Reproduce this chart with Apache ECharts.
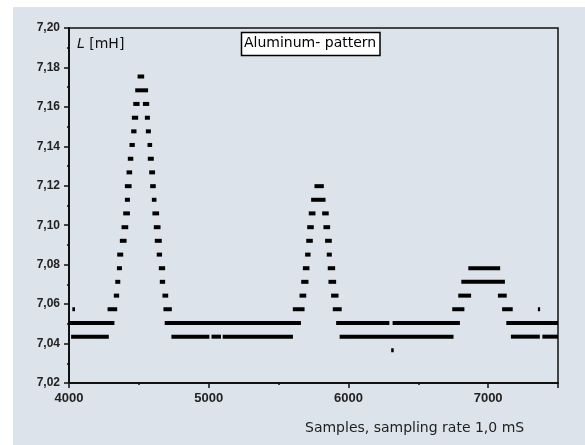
<!DOCTYPE html>
<html>
<head>
<meta charset="utf-8">
<script src="https://cdn.jsdelivr.net/npm/echarts@6/dist/echarts.min.js"></script>
<style>
  html, body { margin: 0; padding: 0; background: #fff; }
  #chart { width: 585px; height: 445px; }
</style>
</head>
<body>
<div id="chart"></div>
<script>
// each entry: [first sample, last sample, L in mH] -> one run of equal readings
var baseUpper = [
  [4000, 4325, 7.0504], [4685, 5660, 7.0504], [5912, 6293, 7.0504],
  [6316, 6798, 7.0504], [7130, 7500, 7.0504]
];
var baseLower = [
  [4015, 4285, 7.0435], [4733, 5005, 7.0435], [5020, 5088, 7.0435],
  [5100, 5603, 7.0435], [5937, 6752, 7.0435], [7163, 7370, 7.0435],
  [7388, 7500, 7.0435]
];
var peak1 = [
  [4276, 4345, 7.0574], [4676, 4736, 7.0574],
  [4321, 4359, 7.0643], [4669, 4710, 7.0643],
  [4331, 4367, 7.0713], [4650, 4688, 7.0713],
  [4343, 4379, 7.0782], [4643, 4688, 7.0782],
  [4345, 4388, 7.0851], [4628, 4666, 7.0851],
  [4364, 4412, 7.0921], [4614, 4664, 7.0921],
  [4376, 4424, 7.0990], [4607, 4655, 7.0990],
  [4388, 4436, 7.1060], [4597, 4645, 7.1060],
  [4400, 4436, 7.1129], [4593, 4626, 7.1129],
  [4400, 4448, 7.1198], [4581, 4621, 7.1198],
  [4412, 4452, 7.1268], [4574, 4616, 7.1268],
  [4421, 4460, 7.1337], [4564, 4607, 7.1337],
  [4433, 4471, 7.1407], [4562, 4595, 7.1407],
  [4445, 4483, 7.1476], [4550, 4586, 7.1476],
  [4450, 4495, 7.1545], [4543, 4579, 7.1545],
  [4460, 4505, 7.1615], [4529, 4574, 7.1615],
  [4474, 4566, 7.1684],
  [4491, 4538, 7.1754]
];
var peak2 = [
  [5602, 5686, 7.0574], [5888, 5952, 7.0574],
  [5650, 5698, 7.0643], [5876, 5929, 7.0643],
  [5662, 5714, 7.0713], [5857, 5912, 7.0713],
  [5674, 5721, 7.0782], [5852, 5905, 7.0782],
  [5690, 5729, 7.0851], [5845, 5881, 7.0851],
  [5698, 5745, 7.0921], [5833, 5881, 7.0921],
  [5705, 5752, 7.0990], [5821, 5869, 7.0990],
  [5716, 5764, 7.1060], [5812, 5859, 7.1060],
  [5733, 5836, 7.1129],
  [5757, 5824, 7.1198]
];
var peak3 = [
  [6743, 6830, 7.0574], [7100, 7176, 7.0574],
  [6786, 6878, 7.0643], [7070, 7133, 7.0643],
  [6808, 7120, 7.0713],
  [6858, 7086, 7.0782]
];
var strays = [
  [4024, 4043, 7.0574], [7356, 7372, 7.0574], [6306, 6324, 7.0366]
];

var allRuns = baseUpper.concat(baseLower, peak1, peak2, peak3, strays);

var chart = echarts.init(document.getElementById('chart'));
var font = 'Liberation Sans';

function renderRun(params, api) {
  var a = api.coord([api.value(0), api.value(2)]);
  var b = api.coord([api.value(1), api.value(2)]);
  return {
    type: 'rect',
    shape: { x: a[0], y: a[1] - 2, width: Math.max(b[0] - a[0], 2), height: 4 },
    style: { fill: '#000' }
  };
}

chart.setOption({
  backgroundColor: '#dde3ea',
  animation: false,
  grid: {
    left: 69, right: 27, top: 28, bottom: 62,
    show: true, borderColor: '#111', borderWidth: 1.5,
    backgroundColor: 'transparent'
  },
  xAxis: {
    type: 'value',
    min: 4000, max: 7500, interval: 1000,
    axisLine: { onZero: false, lineStyle: { color: '#111', width: 2 } },
    axisTick: { length: 5, lineStyle: { color: '#111', width: 1.5 } },
    minorTick: { show: true, splitNumber: 2, length: 2, lineStyle: { color: '#111', width: 1.5 } },
    splitLine: { show: false },
    axisLabel: {
      showMaxLabel: false, margin: 9,
      fontFamily: font, fontSize: 13, fontWeight: 'bold', color: '#222',
      formatter: function (v) { return String(v); }
    }
  },
  yAxis: {
    type: 'value',
    min: 7.02, max: 7.20, interval: 0.02,
    axisLine: { lineStyle: { color: '#111', width: 2 } },
    axisTick: { length: 5, lineStyle: { color: '#111', width: 1.5 } },
    minorTick: { show: true, splitNumber: 2, length: 2, lineStyle: { color: '#111', width: 1.5 } },
    splitLine: { show: false },
    axisLabel: {
      margin: 9,
      fontFamily: font, fontSize: 12, fontWeight: 'bold', color: '#222',
      formatter: function (v) { return v.toFixed(2).replace('.', ','); }
    }
  },
  graphic: [
    { type: 'rect', shape: { x: 0, y: 0, width: 585, height: 7 }, style: { fill: '#fff' } },
    { type: 'rect', shape: { x: 0, y: 0, width: 13, height: 445 }, style: { fill: '#fff' } },
    {
      type: 'text', left: 77, top: 37,
      style: {
        text: '{i|L} [mH]',
        rich: {
          i: { fontFamily: 'DejaVu Sans', fontSize: 14, fontStyle: 'italic', fill: '#111' }
        },
        font: '14px "DejaVu Sans"', fill: '#111'
      }
    },
    {
      type: 'rect', z: 10,
      shape: { x: 241.5, y: 32.5, width: 138.5, height: 23 },
      style: { fill: '#fff', stroke: '#000', lineWidth: 1.5 }
    },
    {
      type: 'text', z: 11, left: 244, top: 36,
      style: { text: 'Aluminum- pattern', font: '14px "DejaVu Sans"', fill: '#000' }
    },
    {
      type: 'text', left: 305, top: 421,
      style: { text: 'Samples, sampling rate 1,0 mS', font: '14px "DejaVu Sans"', fill: '#222' }
    }
  ],
  series: [{
    type: 'custom',
    clip: true,
    renderItem: renderRun,
    encode: { x: [0, 1], y: 2 },
    data: allRuns
  }]
});
</script>
</body>
</html>
